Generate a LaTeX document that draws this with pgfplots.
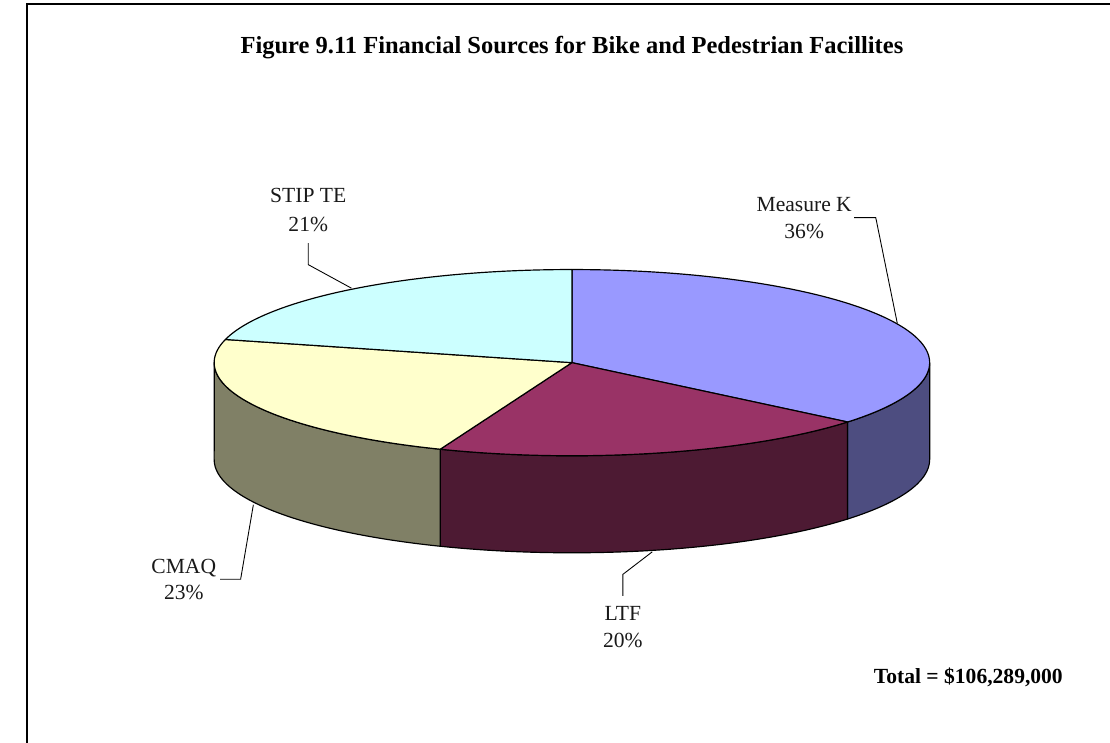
\documentclass[border=0pt]{standalone}
\usepackage{pgfplots}
\usepackage{pgfplotstable}
\pgfplotsset{compat=1.18}
\usepackage{fontspec}
\setmainfont{Liberation Serif}

\definecolor{mkTop}{HTML}{9999FF}
\definecolor{mkSide}{HTML}{4D4D80}
\definecolor{ltfTop}{HTML}{993366}
\definecolor{ltfSide}{HTML}{4D1A33}
\definecolor{cmTop}{HTML}{FFFFCC}
\definecolor{cmSide}{HTML}{808066}
\definecolor{stTop}{HTML}{CCFFFF}

\pgfplotstableread{
label value
MeasureK 36
LTF 20
CMAQ 23
STIPTE 21
}\piedata

\begin{document}
\pgfplotstablegetelem{0}{value}\of\piedata \edef\vA{\pgfplotsretval}
\pgfplotstablegetelem{1}{value}\of\piedata \edef\vB{\pgfplotsretval}
\pgfplotstablegetelem{2}{value}\of\piedata \edef\vC{\pgfplotsretval}
\pgfplotstablegetelem{3}{value}\of\piedata \edef\vD{\pgfplotsretval}
\pgfmathsetmacro\tot{\vA+\vB+\vC+\vD}
\pgfmathsetmacro\aB{\vA/\tot*360}
\pgfmathsetmacro\aC{(\vA+\vB)/\tot*360}
\pgfmathsetmacro\aD{(\vA+\vB+\vC)/\tot*360}
\def\cx{561}\def\cy{388}\def\rx{365}\def\ry{95}\def\dd{99}
\begin{tikzpicture}
\begin{axis}[
  at={(0pt,0pt)}, anchor=origin,
  scale only axis, width=1110pt, height=758pt,
  xmin=0, xmax=1110, ymin=0, ymax=758,
  axis lines=none, clip=false,
  every axis plot/.append style={line width=1.2pt, line join=round, no markers},
]
% sides (front part)
\addplot[fill=mkSide, draw=black, domain=90:\aB, samples=60]
  ({\cx+\rx*sin(x)},{\cy+\ry*cos(x)})
  -- ({\cx+\rx*sin(\aB)},{\cy+\ry*cos(\aB)-\dd})
  arc[start angle={90-\aB}, end angle=0, x radius=365pt, y radius=95pt] -- cycle;
\addplot[fill=ltfSide, draw=black, domain=\aB:\aC, samples=80]
  ({\cx+\rx*sin(x)},{\cy+\ry*cos(x)})
  -- ({\cx+\rx*sin(\aC)},{\cy+\ry*cos(\aC)-\dd})
  arc[start angle={90-\aC}, end angle={90-\aB}, x radius=365pt, y radius=95pt] -- cycle;
\addplot[fill=cmSide, draw=black, domain=\aC:270, samples=80]
  ({\cx+\rx*sin(x)},{\cy+\ry*cos(x)})
  -- ({\cx+\rx*sin(270)},{\cy+\ry*cos(270)-\dd})
  arc[start angle=-180, end angle={90-\aC}, x radius=365pt, y radius=95pt] -- cycle;
% top faces
\addplot[fill=mkTop, draw=black, domain=0:\aB, samples=100]
  ({\cx+\rx*sin(x)},{\cy+\ry*cos(x)}) -- (\cx,\cy) -- cycle;
\addplot[fill=ltfTop, draw=black, domain=\aB:\aC, samples=80]
  ({\cx+\rx*sin(x)},{\cy+\ry*cos(x)}) -- (\cx,\cy) -- cycle;
\addplot[fill=cmTop, draw=black, domain=\aC:\aD, samples=80]
  ({\cx+\rx*sin(x)},{\cy+\ry*cos(x)}) -- (\cx,\cy) -- cycle;
\addplot[fill=stTop, draw=black, domain=\aD:360, samples=80]
  ({\cx+\rx*sin(x)},{\cy+\ry*cos(x)}) -- (\cx,\cy) -- cycle;

% frame
\draw[line width=2pt] (5.2,0) -- (5.2,753.7) -- (1110,753.7);

% leader lines
\draw[line width=0.9pt] (849,536) -- (871,536) -- (893,428);
\draw[line width=0.9pt] (292,510) -- (292,488) -- (336,464);
\draw[line width=0.9pt] (202,167) -- (223,167) -- (236,243);
\draw[line width=0.9pt] (613,150) -- (613,172) -- (643,195);

% labels
\begin{scope}[every node/.style={font=\fontsize{22}{26}\selectfont, anchor=base, inner sep=0pt, text=black!90}]
\node at (798,542) {Measure K};
\node at (798,515) {36\%};
\node at (292,551) {STIP TE};
\node at (292,522) {21\%};
\node at (165,173) {CMAQ};
\node at (165,146) {23\%};
\node at (613,125) {LTF};
\node at (613,97) {20\%};
\end{scope}
\node[font=\fontsize{25}{30}\selectfont\bfseries, anchor=base, inner sep=0pt] at (561,703) {Figure 9.11 Financial Sources for Bike and Pedestrian Facillites};
\node[font=\fontsize{22}{26}\selectfont\bfseries, anchor=base east, inner sep=0pt] at (1062,61) {Total = \$106,289,000};
\end{axis}
\pgfresetboundingbox
\useasboundingbox (0,0) rectangle (1110pt,758pt);
\end{tikzpicture}
\end{document}
